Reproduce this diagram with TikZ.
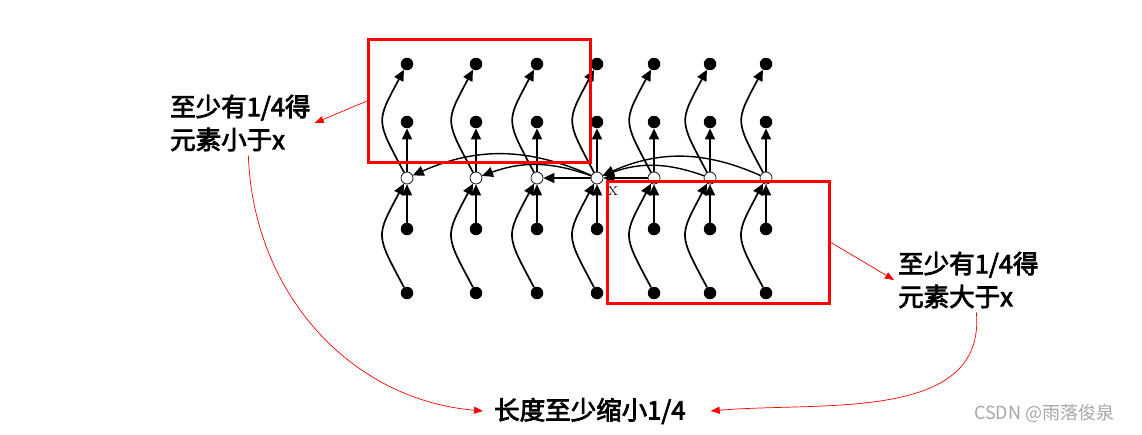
\documentclass[tikz,border=0pt]{standalone}
\usepackage{fontspec}
\newfontfamily\cjk{Noto Sans CJK SC}
\newfontfamily\cjkm{Noto Sans CJK SC}[FakeBold=3]
\usetikzlibrary{arrows.meta}
\begin{document}
\begin{tikzpicture}[x=1pt,y=-1pt,
  dot/.style={circle,fill=black,inner sep=0pt,minimum size=12.5pt},
  med/.style={circle,draw=black,fill=white,line width=0.7pt,inner sep=0pt,minimum size=12pt},
  arr/.style={line width=1.7pt,-{Triangle[length=11pt,width=10pt]}},
  marr/.style={line width=1.4pt,-{Triangle[length=11pt,width=10pt]}},
  redbox/.style={draw=red,line width=3pt,inner sep=0pt},
  redarr/.style={draw=red,line width=0.7pt,-{Triangle[length=9pt,width=7pt]}},
  lab/.style={font=\cjkm\fontsize{25.5}{33}\selectfont,align=left,inner sep=4pt},
]
\useasboundingbox (0,0) rectangle (1142,434);
\foreach \i/\x in {1/407,2/476,3/537,4/597,5/654,6/710,7/766}{
  \node[dot] (t\i) at (\x,64) {};
  \node[dot] (s\i) at (\x,122) {};
  \node[med] (m\i) at (\x,178) {};
  \node[dot] (r\i) at (\x,229) {};
  \node[dot] (b\i) at (\x,293) {};
}
\foreach \i in {1,...,7}{
  \draw[arr] (r\i) -- (m\i);
  \draw[arr] (m\i) -- (s\i);
  \draw[arr] (b\i) to[out=118,in=-118,looseness=1.5] (m\i);
  \draw[arr] (m\i) to[out=118,in=-118,looseness=1.5] (t\i);
}
\draw[marr] (m4) -- (m3);
\draw[marr] (m4) to[out=160,in=20] (m2);
\draw[marr] (m4) to[out=156,in=24] (m1);
\draw[marr] (m5) -- (m4);
\draw[marr] (m6) to[out=160,in=20] (m4);
\draw[marr] (m7) to[out=156,in=24] (m4);
\node[font=\fontsize{20}{20}\selectfont,inner sep=0pt] (xl) at (613,191) {x};
\node[redbox,minimum width=222pt,minimum height=123pt,anchor=north west] (box1) at (367,38) {};
\node[redbox,minimum width=222pt,minimum height=122pt,anchor=north west] (box2) at (606,180) {};
\node[lab,anchor=west] (ll) at (166,123) {至少有1/4得\\元素小于x};
\node[lab,anchor=west] (rl) at (894,280) {至少有1/4得\\元素大于x};
\node[font=\cjkm\fontsize{25.5}{25.5}\selectfont,anchor=west,inner sep=0pt] (bt) at (494,411) {长度至少缩小1/4};
\node[font=\cjk\fontsize{18}{18}\selectfont,text=black!35,anchor=west,inner sep=0pt] (wm) at (974,413) {CSDN @雨落俊泉};
\draw[redarr] (box1.west) -- (ll.east);
\draw[redarr] (box2.east) -- (rl.west);
\draw[redarr] ([xshift=8pt]ll.south) to[out=-88,in=175] ([xshift=-11pt]bt.west);
\draw[redarr] ([xshift=8pt]rl.south) to[out=-85,in=5] ([xshift=25pt]bt.east);
\end{tikzpicture}
\end{document}
